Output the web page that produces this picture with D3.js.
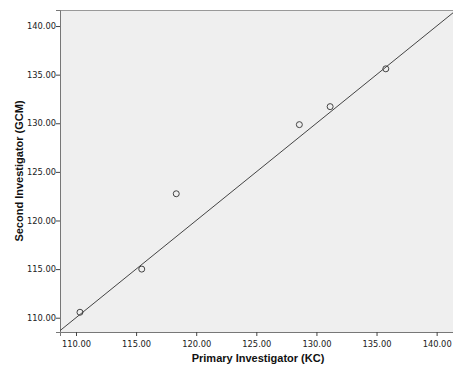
<!DOCTYPE html>
<html>
<head>
<meta charset="utf-8">
<script src="https://cdn.jsdelivr.net/npm/d3@7"></script>
<style>
  body { margin: 0; background: #fff; }
  svg { display: block; }
</style>
</head>
<body>
<div id="chart"></div>
<script>
// readings: primary investigator (KC) vs second investigator (GCM)
var primaryKC = [110.33, 115.47, 118.34, 128.58, 131.14, 135.77];
var secondGCM = [110.56, 115.0, 122.75, 129.86, 131.71, 135.6];
var tickValues = [110, 115, 120, 125, 130, 135, 140];
var refLine = [108, 142]; // y = x reference line

var dim = {
	width: 453,
	height: 367,
	margin: { top: 10, right: 0, bottom: 35, left: 60 }
};
dim.ctrWidth = dim.width - dim.margin.left - dim.margin.right;
dim.ctrHeight = dim.height - dim.margin.top - dim.margin.bottom;

var xScale = d3.scaleLinear()
	.domain([108.67, 141.36])
	.range([0, dim.ctrWidth]);

var yScale = d3.scaleLinear()
	.domain([108.53, 141.65])
	.range([dim.ctrHeight, 0]);

var svg = d3.select("#chart")
	.append("svg")
	.attr("width", dim.width)
	.attr("height", dim.height);

svg.append("defs").append("clipPath")
	.attr("id", "plotClip")
	.append("rect")
	.attr("width", dim.ctrWidth)
	.attr("height", dim.ctrHeight);

var ctr = svg.append("g")
	.attr("transform", `translate(${dim.margin.left},${dim.margin.top})`);

ctr.append("rect")
	.attr("width", dim.ctrWidth)
	.attr("height", dim.ctrHeight)
	.attr("fill", "#efefef");

// top frame
ctr.append("line")
	.attr("x1", 0).attr("x2", dim.ctrWidth)
	.attr("y1", 0.5).attr("y2", 0.5)
	.attr("stroke", "#999");

var fmt = d3.format(".2f");

var xAxis = ctr.append("g")
	.attr("transform", `translate(0,${dim.ctrHeight})`)
	.call(d3.axisBottom(xScale).tickValues(tickValues).tickFormat(fmt).tickSizeOuter(0).tickSize(4));

var yAxis = ctr.append("g")
	.call(d3.axisLeft(yScale).tickValues(tickValues).tickFormat(fmt).tickSizeOuter(0).tickSize(4));

[xAxis, yAxis].forEach(function(ax) {
	ax.select(".domain").attr("stroke", "#777");
	ax.selectAll(".tick line").attr("stroke", "#444");
	ax.selectAll(".tick text")
		.attr("fill", "#222")
		.style("font-family", "'DejaVu Sans', sans-serif")
		.style("font-size", "8.3px");
});
xAxis.selectAll(".tick text").attr("dy", "1.0em");
yAxis.selectAll(".tick text").attr("x", -4);

var plot = ctr.append("g").attr("clip-path", "url(#plotClip)");

plot.append("line")
	.attr("x1", xScale(refLine[0]))
	.attr("y1", yScale(refLine[0]))
	.attr("x2", xScale(refLine[1]))
	.attr("y2", yScale(refLine[1]))
	.attr("stroke", "#444")
	.attr("stroke-width", 1);

plot.selectAll("circle")
	.data(primaryKC)
	.join("circle")
	.attr("cx", (d) => xScale(d))
	.attr("cy", (d, i) => yScale(secondGCM[i]))
	.attr("r", 3)
	.attr("fill", "none")
	.attr("stroke", "#444")
	.attr("stroke-width", 1);

svg.append("text")
	.attr("x", 258)
	.attr("y", 362)
	.attr("text-anchor", "middle")
	.style("font-family", "'Liberation Sans', Arial, sans-serif")
	.style("font-weight", "bold")
	.style("font-size", "11px")
	.attr("fill", "#111")
	.text("Primary Investigator (KC)");

svg.append("text")
	.attr("transform", "translate(23,171) rotate(-90)")
	.attr("text-anchor", "middle")
	.style("font-family", "'Liberation Sans', Arial, sans-serif")
	.style("font-weight", "bold")
	.style("font-size", "11px")
	.attr("fill", "#111")
	.text("Second Investigator (GCM)");
</script>
</body>
</html>
